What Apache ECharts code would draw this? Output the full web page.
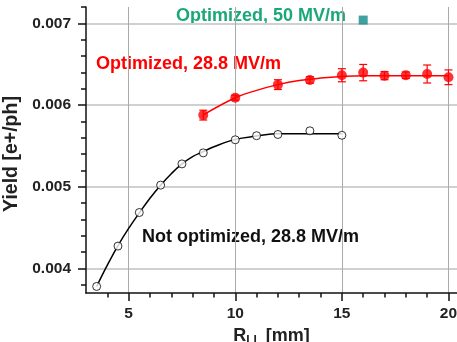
<!DOCTYPE html>
<html>
<head>
<meta charset="utf-8">
<script src="https://cdn.jsdelivr.net/npm/echarts@6/dist/echarts.min.js"></script>
<style>
  html, body { margin: 0; padding: 0; background: #fff; }
  #container { width: 457px; height: 342px; }
</style>
</head>
<body>
<div id="container"></div>
<script>
// not optimized, 28.8 MV/m (open circles)
var notOptX = [3.5, 4.5, 5.5, 6.5, 7.5, 8.5, 10, 11, 12, 13.5, 15];
var notOptY = [0.00378, 0.004274, 0.004685, 0.00502, 0.00528, 0.005415, 0.005575, 0.005625, 0.00564, 0.005685, 0.00563];
// fitted curve
var notOptFitX = [3.5, 4, 4.5, 5, 5.5, 6, 6.5, 7, 7.5, 8, 8.5, 9, 10, 11, 12, 13, 14, 15];
var notOptFitY = [0.00378, 0.00404, 0.00428, 0.00449, 0.00468, 0.00486, 0.00502, 0.00516, 0.00528, 0.00537, 0.00543, 0.00549, 0.00558, 0.00562, 0.00565, 0.00565, 0.00565, 0.00565];

// optimized, 28.8 MV/m (filled red, with error bars)
var optX = [8.5, 10, 12, 13.5, 15, 16, 17, 18, 19, 20];
var optY = [0.005877, 0.00609, 0.00625, 0.006307, 0.006365, 0.006397, 0.00636, 0.006365, 0.00638, 0.00634];
var optErr = [0.00006, 0.00003, 0.00006, 0.00004, 0.00008, 0.0001, 0.00005, 0.00004, 0.00011, 0.00009];
var optFitX = [8.5, 10, 11, 12, 13, 14, 15, 16, 17, 18, 19, 20];
var optFitY = [0.00588, 0.00609, 0.00618, 0.00625, 0.0063, 0.00633, 0.00635, 0.00636, 0.00636, 0.00636, 0.00636, 0.00636];

// optimized, 50 MV/m (single square)
var opt50X = [16];
var opt50Y = [0.00704];

// axis ticks
var xMajor = [5, 10, 15, 20];
var xMinor = [4, 6, 7, 8, 9, 11, 12, 13, 14, 16, 17, 18, 19];
var yMajor = [0.004, 0.005, 0.006, 0.007];
var yMinor = [0.0038, 0.0042, 0.0044, 0.0046, 0.0048, 0.0052, 0.0054, 0.0056, 0.0058,
              0.0062, 0.0064, 0.0066, 0.0068, 0.0072];

function pairs(xs, ys) {
    var out = [];
    for (var i = 0; i < xs.length; i++) out.push([xs[i], ys[i]]);
    return out;
}

var dom = document.getElementById('container');
var myChart = echarts.init(dom);
var font = 'Liberation Sans, Arial, sans-serif';
var xMin = 3, xMax = 20.4, yMin = 0.0037, yMax = 0.0072;

var errData = [];
for (var i = 0; i < optX.length; i++) {
    errData.push([optX[i], optY[i] - optErr[i], optY[i] + optErr[i]]);
}

var option = {
    animation: false,
    backgroundColor: '#fff',
    grid: { left: 86, right: 0, top: 7, bottom: 49, containLabel: false, outerBoundsMode: 'none' },
    xAxis: [{
        type: 'value', min: xMin, max: xMax, position: 'bottom',
        name: '{r|R}{s|LL}{r| [mm]}', nameLocation: 'middle', nameGap: 31,
        nameTextStyle: {
            rich: {
                r: { fontFamily: font, fontWeight: 'bold', fontSize: 18, color: '#222' },
                s: { fontFamily: font, fontWeight: 'bold', fontSize: 12, color: '#222', padding: [9, 0, 0, 0] }
            }
        },
        axisLine: { lineStyle: { color: '#111', width: 1.5 } },
        axisTick: { customValues: xMajor, length: 8, lineStyle: { color: '#111', width: 1.5 } },
        axisLabel: { customValues: xMajor, fontFamily: font, fontWeight: 'bold', fontSize: 15.5, color: '#222', margin: 13 },
        splitLine: { show: true, lineStyle: { color: '#aaa', width: 1 } }
    }, {
        type: 'value', min: xMin, max: xMax, position: 'bottom', offset: 0,
        axisLine: { show: false },
        axisTick: { customValues: xMinor, length: 4.5, lineStyle: { color: '#111', width: 1.5 } },
        axisLabel: { show: false },
        splitLine: { show: false }
    }],
    yAxis: [{
        type: 'value', min: yMin, max: yMax, position: 'left',
        name: 'Yield [e+/ph]', nameLocation: 'middle', nameGap: 60, nameRotate: 90,
        nameTextStyle: { fontFamily: font, fontWeight: 'bold', fontSize: 19.5, color: '#222', padding: [0, 8, 0, 0] },
        axisLine: { show: true, lineStyle: { color: '#111', width: 1.5 } },
        axisTick: { show: true, customValues: yMajor, length: 8, lineStyle: { color: '#111', width: 1.5 } },
        axisLabel: { customValues: yMajor, fontFamily: font, fontWeight: 'bold', fontSize: 15.5, color: '#222', margin: 15,
            formatter: function (v) { return v.toFixed(3); } },
        splitLine: { show: true, lineStyle: { color: '#d0d0d0', width: 2 } }
    }, {
        type: 'value', min: yMin, max: yMax, position: 'left', offset: 0,
        axisLine: { show: false },
        axisTick: { show: true, customValues: yMinor, length: 5, lineStyle: { color: '#111', width: 1.5 } },
        axisLabel: { show: false },
        splitLine: { show: false }
    }],
    series: [{
        name: 'not optimized fit', type: 'line', smooth: 0.4, showSymbol: false,
        data: pairs(notOptFitX, notOptFitY),
        lineStyle: { color: '#000', width: 1.5 }, z: 3
    }, {
        name: 'not optimized', type: 'scatter', symbol: 'circle', symbolSize: 8,
        data: pairs(notOptX, notOptY),
        itemStyle: { color: '#fff', borderColor: '#000', borderWidth: 1 }, z: 4
    }, {
        name: 'optimized fit', type: 'line', smooth: 0.4, showSymbol: false,
        data: pairs(optFitX, optFitY),
        lineStyle: { color: '#ff0000', width: 1.5 }, z: 3
    }, {
        name: 'optimized err', type: 'custom',
        data: errData,
        renderItem: function (params, api) {
            var x = api.value(0);
            var lo = api.coord([x, api.value(1)]);
            var hi = api.coord([x, api.value(2)]);
            var w = 4;
            var st = { stroke: '#ff0000', lineWidth: 1.2 };
            return {
                type: 'group',
                children: [
                    { type: 'line', shape: { x1: lo[0], y1: lo[1], x2: hi[0], y2: hi[1] }, style: st },
                    { type: 'line', shape: { x1: lo[0] - w, y1: lo[1], x2: lo[0] + w, y2: lo[1] }, style: st },
                    { type: 'line', shape: { x1: hi[0] - w, y1: hi[1], x2: hi[0] + w, y2: hi[1] }, style: st }
                ]
            };
        },
        z: 4
    }, {
        name: 'optimized', type: 'scatter', symbol: 'circle', symbolSize: 10,
        data: pairs(optX, optY),
        itemStyle: { color: '#ff0000' }, z: 5
    }, {
        name: 'optimized 50', type: 'scatter', symbol: 'rect', symbolSize: 9,
        data: pairs(opt50X, opt50Y),
        itemStyle: { color: '#118a8a' }, z: 5
    }],
    graphic: [{
        type: 'text', left: 176, top: 7,
        style: { text: 'Optimized, 50 MV/m', font: 'bold 18px ' + font, fill: '#1aa878' }
    }, {
        type: 'text', left: 96, top: 55,
        style: { text: 'Optimized, 28.8 MV/m', font: 'bold 18px ' + font, fill: '#ff0000' }
    }, {
        type: 'text', left: 142, top: 228,
        style: { text: 'Not optimized, 28.8 MV/m', font: 'bold 18px ' + font, fill: '#111' }
    }]
};

myChart.setOption(option);
</script>
</body>
</html>
